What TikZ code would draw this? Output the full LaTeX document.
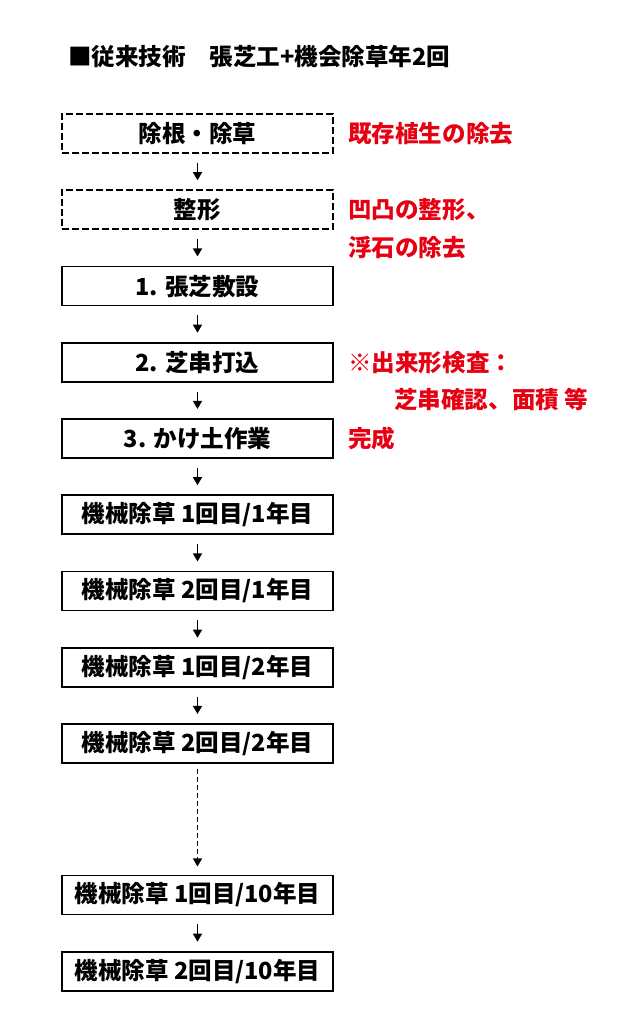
\documentclass[tikz,border=0pt]{standalone}
\usepackage{fontspec}
\setmainfont{Noto Sans CJK JP}
\usetikzlibrary{positioning,arrows.meta}
\definecolor{notered}{RGB}{230,0,18}
\tikzset{work/.style = {draw, line width=1.1pt, minimum width=5.42cm, minimum height=0.78cm, inner sep=0pt, font=\bfseries\fontsize{13.4pt}{16pt}\selectfont}}
\tikzset{prep/.style = {work, dash pattern=on 0.14cm off 0.06cm}}
\tikzset{note/.style = {anchor=west, inner sep=0pt, text=notered, font=\bfseries\fontsize{13.4pt}{16pt}\selectfont}}
\tikzset{heading/.style = {anchor=west, inner sep=0pt, font=\bfseries\fontsize{13.4pt}{16pt}\selectfont}}
\tikzset{flow/.style = {->, line width=1.1pt, shorten <=0.18cm, shorten >=0.18cm}}

\begin{document}
\begin{tikzpicture}[>={Triangle[length=4.6pt,width=5pt]}, on grid, node distance=1.525cm]
  \useasboundingbox (0,0) rectangle (12.8,-20.58);
  \node [heading] (title) at (1.36,-1.14) {■従来技術　張芝工+機会除草年2回};
  % steps
  \node [prep] (weed) at (3.95,-2.67) {除根・除草};
  \node [prep, below=of weed] (shape) {整形};
  \node [work, below=of shape] (lay) {1. 張芝敷設};
  \node [work, below=of lay] (stake) {2. 芝串打込};
  \node [work, below=of stake] (soil) {3. かけ土作業};
  \node [work, below=of soil] (m1) {機械除草 1回目/1年目};
  \node [work, below=of m1] (m2) {機械除草 2回目/1年目};
  \node [work, below=of m2] (m3) {機械除草 1回目/2年目};
  \node [work, below=of m3] (m4) {機械除草 2回目/2年目};
  \node [work, below=3.03cm of m4] (m5) {機械除草 1回目/10年目};
  \node [work, below=of m5] (m6) {機械除草 2回目/10年目};
  % notes
  \node [note] (n1) at ([xshift=0.28cm]weed.east) {既存植生の除去};
  \node [note] (n2) at ([xshift=0.28cm]shape.east) {凹凸の整形、};
  \node [note] (n3) at ([yshift=-0.76cm]n2.west) {浮石の除去};
  \node [note] (n4) at ([xshift=0.28cm]stake.east) {※出来形検査：};
  \node [note] (n5) at ([xshift=0.92cm, yshift=-0.74cm]n4.west) {芝串確認、面積 等};
  \node [note] (n6) at ([xshift=0.28cm]soil.east) {完成};
  % arrows
  \foreach \a/\b in {weed/shape, shape/lay, lay/stake, stake/soil, soil/m1, m1/m2, m2/m3, m3/m4, m5/m6}
    \draw [flow] (\a) -- (\b);
  \draw [flow, shorten <=0.1cm, shorten >=0.16cm, dash pattern=on 0.1cm off 0.06cm] (m4) -- (m5);
\end{tikzpicture}
\end{document}
